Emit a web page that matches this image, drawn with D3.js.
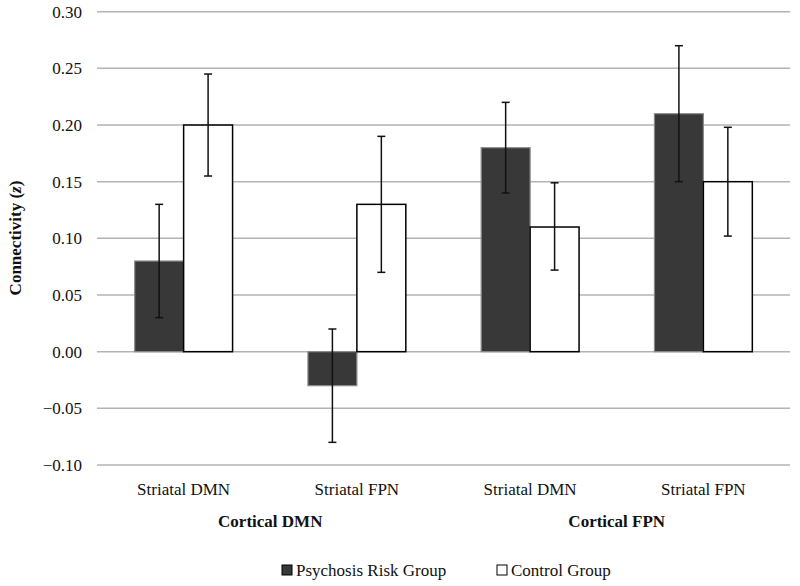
<!DOCTYPE html>
<html><head><meta charset="utf-8">
<script src="https://cdn.jsdelivr.net/npm/d3@7"></script>
<style>body{margin:0;background:#fff}svg{display:block}svg text{font-family:"Liberation Serif","Times New Roman",serif}</style>
</head><body><svg id="c" width="800" height="586"></svg>
<script>
const categories = ["Striatal DMN","Striatal FPN","Striatal DMN","Striatal FPN"];
const groupLabels = ["Cortical DMN","Cortical FPN"];
const series = ["Psychosis Risk Group","Control Group"];
const riskValues = [0.08,-0.03,0.18,0.21];
const riskLow = [0.03,-0.08,0.14,0.15];
const riskHigh = [0.13,0.02,0.22,0.27];
const controlValues = [0.20,0.13,0.11,0.15];
const controlLow = [0.155,0.07,0.072,0.102];
const controlHigh = [0.245,0.19,0.149,0.198];
const yTicks = [-0.10,-0.05,0,0.05,0.10,0.15,0.20,0.25,0.30];

const svg = d3.select("#c");
const FS=17;
const L=97,R=790,T=11.7,B=465;
const x = d3.scaleBand().domain(d3.range(4)).range([L,R]).paddingInner(0.435).paddingOuter(0.2175);
const xs = d3.scaleBand().domain([0,1]).range([0,x.bandwidth()]);
const y = d3.scaleLinear().domain([-0.10,0.30]).range([B,T]);

svg.append("g").selectAll("line").data(yTicks).join("line")
  .attr("x1",L).attr("x2",R).attr("y1",d=>y(d)).attr("y2",d=>y(d))
  .attr("stroke","#b3b3b3").attr("stroke-width",1.5);
svg.append("g").selectAll("text").data(yTicks).join("text")
  .attr("x",82).attr("y",d=>y(d)).attr("dy","0.35em").attr("text-anchor","end")
  .attr("font-size",FS).attr("fill","#111").text(d=>d3.format(".2f")(d));

const data = [
  {vals:riskValues,lo:riskLow,hi:riskHigh,fill:"#383838",stroke:"#8a8a8a"},
  {vals:controlValues,lo:controlLow,hi:controlHigh,fill:"#fff",stroke:"#000"}
];
data.forEach((s,si)=>{
  svg.append("g").selectAll("rect").data(s.vals).join("rect")
    .attr("x",(d,i)=>x(i)+xs(si)).attr("width",xs.bandwidth())
    .attr("y",d=>y(Math.max(0,d))).attr("height",d=>Math.abs(y(d)-y(0)))
    .attr("fill",s.fill).attr("stroke",s.stroke).attr("stroke-width",si?1.5:1.2);
});
data.forEach((s,si)=>{
  const g=svg.append("g").attr("stroke","#111").attr("stroke-width",1.5);
  s.vals.forEach((d,i)=>{
    const cx=x(i)+xs(si)+xs.bandwidth()/2;
    g.append("line").attr("x1",cx).attr("x2",cx).attr("y1",y(s.lo[i])).attr("y2",y(s.hi[i]));
    [s.lo[i],s.hi[i]].forEach(v=>g.append("line").attr("x1",cx-4).attr("x2",cx+4).attr("y1",y(v)).attr("y2",y(v)));
  });
});
svg.append("g").selectAll("text").data(categories).join("text")
  .attr("x",(d,i)=>x(i)+x.bandwidth()/2).attr("y",495).attr("text-anchor","middle")
  .attr("font-size",FS).attr("fill","#111").text(d=>d);
svg.append("g").selectAll("text").data(groupLabels).join("text")
  .attr("x",(d,i)=>(x(2*i)+x(2*i+1)+x.bandwidth())/2).attr("y",527).attr("text-anchor","middle")
  .attr("font-size",FS).attr("font-weight","bold").attr("fill","#111").text(d=>d);
const yt=svg.append("text").attr("transform","translate(21,238) rotate(-90)").attr("text-anchor","middle")
  .attr("font-size",FS).attr("font-weight","bold").attr("fill","#111");
yt.append("tspan").text("Connectivity (");
yt.append("tspan").attr("font-style","italic").text("z");
yt.append("tspan").text(")");
const legX=[282,497];
series.forEach((s,i)=>{
  svg.append("rect").attr("x",legX[i]).attr("y",565).attr("width",10).attr("height",10)
    .attr("fill",i?"#fff":"#383838").attr("stroke","#000").attr("stroke-width",1);
  svg.append("text").attr("x",legX[i]+14).attr("y",576).attr("font-size",FS).attr("fill","#111").text(s);
});
</script></body></html>
